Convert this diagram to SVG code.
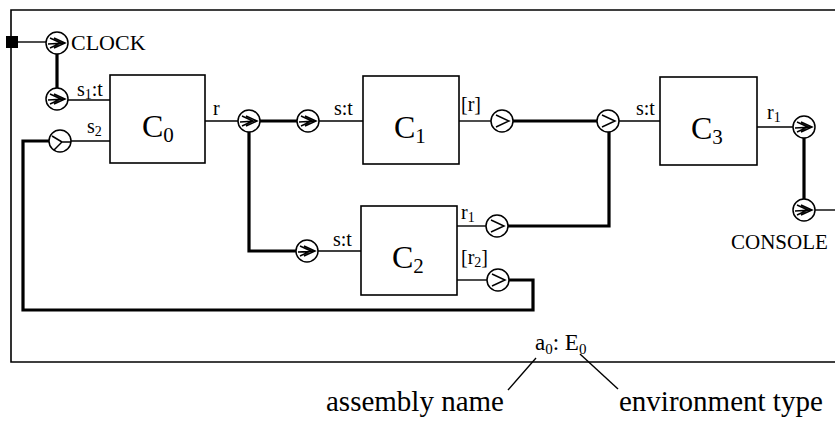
<svg xmlns="http://www.w3.org/2000/svg" width="835" height="421" viewBox="0 0 835 421">
<style>
.thin{fill:none;stroke:#000;stroke-width:1.4}
.thick{fill:none;stroke:#000;stroke-width:3.2}
.box{fill:#fff;stroke:#000;stroke-width:1.6}
.port{fill:#fff;stroke:#000;stroke-width:1.5}
.sym{fill:none;stroke:#000;stroke-width:1.5;stroke-linejoin:miter}
text{font-family:"Liberation Serif","Times New Roman",serif;fill:#000}
.lbl{font-size:20px}
.s{font-size:14px}
.big{font-size:32px}
.sub{font-size:21px}
.ann{font-size:29px}
</style>
<defs>
<g id="pdbl"><circle r="11" class="port"/><path class="sym" d="M-7,-5 L4,0 L-7,5 M-3,-5 L8,0 L-3,5 M-9,1 L8,0"/></g>
<g id="psgl"><circle r="11" class="port"/><path class="sym" d="M-6,-6 L7,0 L-6,6"/></g>
<g id="pin"><circle r="11" class="port"/><path class="sym" d="M-8,-5 L2,1 L-6,9 M2,1 L11,1"/></g>
</defs>

<!-- frame -->
<path class="thin" d="M845,10 L11,10 L11,362 L845,362" style="stroke-width:1.6"/>

<g id="connectors">
<line class="thin" x1="18" y1="42" x2="46" y2="42"/>
<line class="thick" x1="57" y1="53" x2="57" y2="88"/>
<line class="thin" x1="68" y1="100" x2="110" y2="100"/>
<line class="thin" x1="71" y1="141" x2="110" y2="141"/>
<line class="thin" x1="205" y1="121" x2="238" y2="121"/>
<line class="thick" x1="260" y1="121" x2="297" y2="121"/>
<polyline class="thick" points="249,132 249,251 296,251"/>
<line class="thin" x1="319" y1="121" x2="363" y2="121"/>
<line class="thin" x1="318" y1="251" x2="361" y2="251"/>
<line class="thin" x1="459" y1="121" x2="491" y2="121"/>
<line class="thick" x1="513" y1="121" x2="597" y2="121"/>
<line class="thin" x1="457" y1="226" x2="486" y2="226"/>
<polyline class="thick" points="508,226 609,226 609,132"/>
<line class="thin" x1="457" y1="280" x2="487" y2="280"/>
<polyline class="thick" points="509,280 533,280 533,310 23,310 23,141 49,141"/>
<line class="thin" x1="619" y1="121" x2="660" y2="121"/>
<line class="thin" x1="757" y1="127" x2="793" y2="127"/>
<line class="thick" x1="804" y1="138" x2="804" y2="199"/>
<line class="thin" x1="815" y1="210" x2="840" y2="210"/>
<line class="thin" x1="536" y1="358" x2="508" y2="390"/>
<line class="thin" x1="580" y1="354" x2="618" y2="389"/>
</g>

<g id="clock">
<rect x="6" y="36" width="12" height="12" fill="#000"/>
<use href="#pdbl" x="57" y="43"/>
<text x="71" y="50" style="font-size:22px">CLOCK</text>
</g>

<g id="c0">
<rect class="box" x="110" y="75" width="95" height="88"/>
<text class="big" x="142" y="137">C<tspan class="sub" dy="5">0</tspan></text>
<use href="#pdbl" x="57" y="99"/>
<use href="#pin" x="60" y="141"/>
<text class="lbl" x="77" y="96">s<tspan class="s" dy="3">1</tspan><tspan dy="-3">:t</tspan></text>
<text class="lbl" x="87" y="133">s<tspan class="s" dy="3">2</tspan></text>
<text class="lbl" x="213" y="115">r</text>
</g>

<g id="split">
<use href="#pdbl" x="249" y="121"/>
</g>

<g id="c1">
<rect class="box" x="363" y="76" width="96" height="88"/>
<text class="big" x="394" y="138">C<tspan class="sub" dy="5">1</tspan></text>
<use href="#pdbl" x="308" y="121"/>
<use href="#psgl" x="502" y="121"/>
<text class="lbl" x="334" y="115">s:t</text>
<text class="lbl" x="461" y="111">[r]</text>
</g>

<g id="c2">
<rect class="box" x="361" y="206" width="96" height="89"/>
<text class="big" x="392" y="268">C<tspan class="sub" dy="5">2</tspan></text>
<use href="#pdbl" x="307" y="251"/>
<use href="#psgl" x="497" y="226"/>
<use href="#psgl" x="498" y="280"/>
<text class="lbl" x="333" y="246">s:t</text>
<text class="lbl" x="461" y="219">r<tspan class="s" dy="3">1</tspan></text>
<text class="lbl" x="461" y="264">[r<tspan class="s" dy="3">2</tspan><tspan dy="-3">]</tspan></text>
</g>

<g id="join">
<use href="#psgl" x="608" y="121"/>
</g>

<g id="c3">
<rect class="box" x="660" y="77" width="97" height="88"/>
<text class="big" x="691" y="139">C<tspan class="sub" dy="5">3</tspan></text>
<text class="lbl" x="636" y="115">s:t</text>
<text class="lbl" x="767" y="119">r<tspan class="s" dy="3">1</tspan></text>
<use href="#pdbl" x="804" y="127"/>
</g>

<g id="console">
<use href="#pdbl" x="804" y="210"/>
<text x="731" y="249" style="font-size:21px">CONSOLE</text>
</g>

<g id="labels">
<text x="535" y="350" style="font-size:23px">a<tspan style="font-size:15px" dy="4">0</tspan><tspan dy="-4">: E</tspan><tspan style="font-size:15px" dy="4">0</tspan></text>
<text class="ann" x="326" y="411">assembly name</text>
<text class="ann" x="619" y="411">environment type</text>
</g>
</svg>
